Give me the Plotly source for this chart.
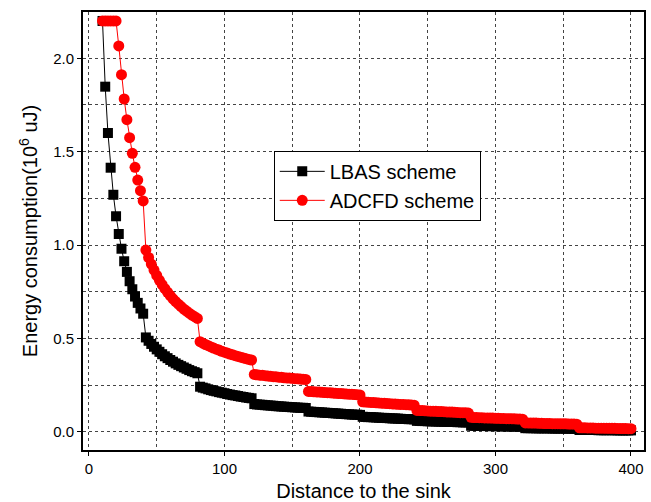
import plotly.graph_objects as go

# Distance to the sink (x), every 2 units from 10 to 400
distance = list(range(10, 401, 2))

# LBAS scheme energy consumption (10^6 uJ), per 40-unit segment
lbas_seg1 = [2.2, 1.848, 1.600, 1.414, 1.269, 1.154, 1.059, 0.980, 0.913, 0.856,
             0.806, 0.763, 0.724, 0.690, 0.660, 0.632]
lbas_seg2 = [0.505, 0.487, 0.470, 0.455, 0.441, 0.428, 0.415, 0.404, 0.394, 0.384,
             0.375, 0.366, 0.358, 0.351, 0.344, 0.337, 0.330, 0.324, 0.319, 0.313]
lbas_seg3 = [0.241, 0.236, 0.232, 0.227, 0.223, 0.219, 0.216, 0.212, 0.209, 0.206,
             0.202, 0.199, 0.196, 0.194, 0.191, 0.188, 0.186, 0.183, 0.181, 0.179]
lbas_seg4 = [0.148, 0.146, 0.145, 0.144, 0.142, 0.141, 0.140, 0.139, 0.137, 0.136,
             0.135, 0.134, 0.133, 0.132, 0.131, 0.130, 0.129, 0.128, 0.128, 0.127]
lbas_seg5 = [0.108, 0.107, 0.106, 0.105, 0.104, 0.103, 0.102, 0.101, 0.100, 0.099,
             0.098, 0.097, 0.096, 0.095, 0.094, 0.093, 0.092, 0.091, 0.091, 0.090]
lbas_seg6 = [0.080, 0.079, 0.078, 0.078, 0.077, 0.076, 0.075, 0.074, 0.074, 0.073,
             0.072, 0.071, 0.071, 0.070, 0.069, 0.068, 0.068, 0.067, 0.067, 0.066]
lbas_seg7 = [0.058, 0.058, 0.057, 0.057, 0.056, 0.056, 0.055, 0.055, 0.054, 0.054,
             0.053, 0.053, 0.052, 0.052, 0.052, 0.051, 0.051, 0.050, 0.050, 0.050]
lbas_seg8 = [0.032, 0.032, 0.032, 0.031, 0.031, 0.031, 0.030, 0.030, 0.030, 0.030,
             0.029, 0.029, 0.029, 0.029, 0.028, 0.028, 0.028, 0.028, 0.027, 0.027]
lbas_seg9 = [0.019, 0.019, 0.019, 0.019, 0.018, 0.018, 0.018, 0.018, 0.018, 0.018,
             0.017, 0.017, 0.017, 0.017, 0.017, 0.017, 0.016, 0.016, 0.016, 0.016]
lbas_seg10 = [0.009, 0.009, 0.009, 0.009, 0.009, 0.009, 0.009, 0.008, 0.008, 0.008,
              0.008, 0.008, 0.008, 0.008, 0.007, 0.007, 0.007, 0.007, 0.007, 0.007]

# ADCFD scheme energy consumption (10^6 uJ), per 40-unit segment
adcfd_seg1 = [2.2, 2.2, 2.2, 2.2, 2.2, 2.2, 2.066, 1.912, 1.782, 1.671,
              1.575, 1.491, 1.416, 1.348, 1.291, 1.236]
adcfd_seg2 = [0.973, 0.933, 0.898, 0.866, 0.837, 0.811, 0.788, 0.766, 0.747, 0.729,
              0.712, 0.697, 0.683, 0.670, 0.657, 0.646, 0.635, 0.625, 0.616, 0.607]
adcfd_seg3 = [0.482, 0.474, 0.467, 0.461, 0.454, 0.448, 0.442, 0.437, 0.431, 0.426,
              0.421, 0.416, 0.412, 0.407, 0.403, 0.399, 0.395, 0.391, 0.387, 0.384]
adcfd_seg4 = [0.307, 0.305, 0.303, 0.302, 0.300, 0.298, 0.297, 0.295, 0.294, 0.292,
              0.291, 0.289, 0.288, 0.287, 0.286, 0.284, 0.283, 0.282, 0.281, 0.280]
adcfd_seg5 = [0.216, 0.215, 0.214, 0.213, 0.212, 0.211, 0.210, 0.209, 0.208, 0.207,
              0.206, 0.205, 0.204, 0.203, 0.202, 0.201, 0.200, 0.199, 0.198, 0.197]
adcfd_seg6 = [0.160, 0.159, 0.158, 0.157, 0.156, 0.155, 0.154, 0.153, 0.152, 0.151,
              0.150, 0.149, 0.148, 0.147, 0.146, 0.146, 0.145, 0.144, 0.143, 0.142]
adcfd_seg7 = [0.114, 0.113, 0.113, 0.112, 0.111, 0.110, 0.110, 0.109, 0.108, 0.108,
              0.107, 0.106, 0.105, 0.105, 0.104, 0.103, 0.102, 0.102, 0.101, 0.100]
adcfd_seg8 = [0.077, 0.076, 0.076, 0.075, 0.075, 0.074, 0.074, 0.073, 0.073, 0.072,
              0.072, 0.071, 0.071, 0.070, 0.070, 0.069, 0.069, 0.068, 0.068, 0.067]
adcfd_seg9 = [0.047, 0.047, 0.046, 0.046, 0.046, 0.045, 0.045, 0.044, 0.044, 0.044,
              0.043, 0.043, 0.043, 0.042, 0.042, 0.042, 0.041, 0.041, 0.041, 0.040]
adcfd_seg10 = [0.021, 0.021, 0.021, 0.020, 0.020, 0.020, 0.019, 0.019, 0.019, 0.019,
               0.018, 0.018, 0.018, 0.018, 0.017, 0.017, 0.017, 0.017, 0.016, 0.016]

lbas = (lbas_seg1 + lbas_seg2 + lbas_seg3 + lbas_seg4 + lbas_seg5 + lbas_seg6
        + lbas_seg7 + lbas_seg8 + lbas_seg9 + lbas_seg10)
adcfd = (adcfd_seg1 + adcfd_seg2 + adcfd_seg3 + adcfd_seg4 + adcfd_seg5 + adcfd_seg6
         + adcfd_seg7 + adcfd_seg8 + adcfd_seg9 + adcfd_seg10)

series_names = ["LBAS scheme", "ADCFD scheme"]
x_ticks = [0, 100, 200, 300, 400]
y_ticks = [0.0, 0.5, 1.0, 1.5, 2.0]

FONT = "Liberation Sans, Arial, sans-serif"

fig = go.Figure()
fig.add_trace(go.Scatter(
    x=distance, y=lbas, name=series_names[0], mode="lines+markers",
    line=dict(color="black", width=1),
    marker=dict(symbol="square", size=10, color="black"),
))
fig.add_trace(go.Scatter(
    x=distance, y=adcfd, name=series_names[1], mode="lines+markers",
    line=dict(color="#ff0000", width=1),
    marker=dict(symbol="circle", size=11, color="#ff0000"),
))

axis_common = dict(
    showline=True, linecolor="black", linewidth=2, mirror=True,
    ticks="outside", ticklen=4, tickwidth=1, tickcolor="black",
    showgrid=False, zeroline=False, automargin=False,
    tickfont=dict(family=FONT, size=15, color="black"),
)

fig.update_xaxes(
    range=[-4.4, 409.6], tickvals=x_ticks, ticktext=[str(v) for v in x_ticks],
    minor=dict(dtick=50, tick0=0, showgrid=True, gridcolor="#444444",
               griddash="dot", gridwidth=1, ticks=""),
    title=dict(text="Distance to the sink", standoff=8,
               font=dict(family=FONT, size=20, color="black")),
    **axis_common,
)
fig.update_yaxes(
    range=[-0.098, 2.248], tickvals=y_ticks, ticktext=[f"{v:.1f}" for v in y_ticks],
    minor=dict(dtick=0.25, tick0=0, showgrid=True, gridcolor="#444444",
               griddash="dot", gridwidth=1, ticks=""),
    title=dict(text="Energy consumption(10<sup>6</sup> uJ)", standoff=10,
               font=dict(family=FONT, size=20, color="black")),
    **axis_common,
)

fig.update_layout(
    width=651, height=502,
    margin=dict(l=83, r=7, t=12, b=52),
    plot_bgcolor="white", paper_bgcolor="white",
    font=dict(family=FONT, color="black"),
    legend=dict(
        x=0.34, y=0.683, xanchor="left", yanchor="top",
        bgcolor="white", bordercolor="black", borderwidth=1,
        font=dict(family=FONT, size=20, color="black"),
        tracegroupgap=0, itemwidth=45,
    ),
    showlegend=True,
)

fig.write_html("out.html")
